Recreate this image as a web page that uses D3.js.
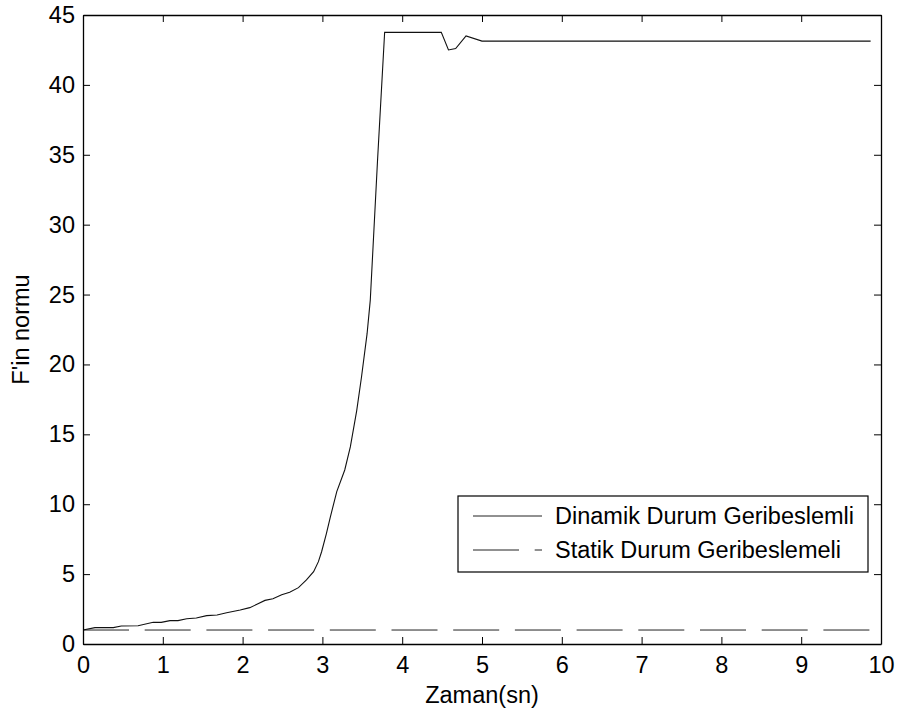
<!DOCTYPE html>
<html>
<head>
<meta charset="utf-8">
<script src="https://cdn.jsdelivr.net/npm/d3@7"></script>
<style>
  html, body { margin: 0; padding: 0; background: #fff; }
  text { font-family: "Liberation Sans", Arial, Helvetica, sans-serif; }
</style>
</head>
<body>
<svg id="chart" width="897" height="713"></svg>
<script>
// ---- data ----
const timeDynamic = [0, 0.15, 0.38, 0.48, 0.69, 0.88, 0.98, 1.09, 1.19, 1.30, 1.42, 1.55, 1.68, 1.80, 1.97, 2.09, 2.18, 2.28, 2.38, 2.49, 2.59, 2.70, 2.80, 2.89, 2.95, 2.99, 3.05, 3.10, 3.18, 3.28, 3.35, 3.43, 3.49, 3.56, 3.60, 3.69, 3.78, 4.49, 4.58, 4.67, 4.80, 5.00, 9.87];
const normDynamic = [1.0, 1.17, 1.17, 1.29, 1.31, 1.55, 1.55, 1.67, 1.67, 1.81, 1.86, 2.03, 2.07, 2.24, 2.43, 2.60, 2.84, 3.12, 3.24, 3.53, 3.70, 4.03, 4.58, 5.17, 5.89, 6.6, 7.9, 9.1, 10.9, 12.45, 14.1, 16.7, 19.1, 22.2, 24.6, 34.5, 43.76, 43.76, 42.5, 42.6, 43.5, 43.13, 43.13];
const timeStatic = [0, 9.87];
const normStatic = [1.0, 1.0];
const xTicks = [0, 1, 2, 3, 4, 5, 6, 7, 8, 9, 10];
const yTicks = [0, 5, 10, 15, 20, 25, 30, 35, 40, 45];
const seriesNames = ["Dinamik Durum Geribeslemli", "Statik Durum Geribeslemeli"];
const xLabel = "Zaman(sn)";
const yLabel = "F'in normu";

// ---- layout ----
const W = 897, H = 713;
const m = { left: 83, top: 15, right: 16, bottom: 69 };
const pw = W - m.left - m.right, ph = H - m.top - m.bottom;
const fs = 23.5;
const tickLen = 7;
const dash = "46,15.7";

const svg = d3.select("#chart");
const g = svg.append("g").attr("transform", `translate(${m.left},${m.top})`);

const x = d3.scaleLinear().domain([0, 10]).range([0, pw]);
const y = d3.scaleLinear().domain([0, 45]).range([ph, 0]);

g.append("rect").attr("width", pw).attr("height", ph).attr("fill", "#fff");

// lines
const dynData = timeDynamic.map((t, i) => [t, normDynamic[i]]);
const statData = timeStatic.map((t, i) => [t, normStatic[i]]);
const line = d3.line().x(d => x(d[0])).y(d => y(d[1]));

g.append("path").datum(statData).attr("d", line)
  .attr("fill", "none").attr("stroke", "#222").attr("stroke-width", 1)
  .attr("stroke-dasharray", dash);
g.append("path").datum(dynData).attr("d", line)
  .attr("fill", "none").attr("stroke", "#111").attr("stroke-width", 1.1);

// axes
function styleAxis(sel) {
  sel.selectAll("path").attr("stroke", "#000").attr("stroke-width", 1.3);
  sel.selectAll("line").attr("stroke", "#000").attr("stroke-width", 1);
  sel.selectAll("text").attr("font-size", fs).attr("fill", "#000")
     .attr("font-family", '"Liberation Sans", Arial, Helvetica, sans-serif');
}
g.append("g").attr("transform", `translate(0,${ph})`)
  .call(d3.axisBottom(x).tickValues(xTicks).tickFormat(d3.format("d"))
        .tickSizeInner(-tickLen).tickSizeOuter(0).tickPadding(12))
  .call(styleAxis);
g.append("g")
  .call(d3.axisLeft(y).tickValues(yTicks).tickFormat(d3.format("d"))
        .tickSizeInner(-tickLen).tickSizeOuter(0).tickPadding(8))
  .call(styleAxis);
g.append("g")
  .call(d3.axisTop(x).tickValues(xTicks).tickFormat("")
        .tickSizeInner(-tickLen).tickSizeOuter(0))
  .call(styleAxis);
g.append("g").attr("transform", `translate(${pw},0)`)
  .call(d3.axisRight(y).tickValues(yTicks).tickFormat("")
        .tickSizeInner(-tickLen).tickSizeOuter(0))
  .call(styleAxis);

// axis labels
svg.append("text").attr("x", m.left + pw / 2).attr("y", 703)
  .attr("text-anchor", "middle").attr("font-size", fs).text(xLabel);
svg.append("text").attr("transform", `translate(29,${m.top + ph / 2}) rotate(-90)`)
  .attr("text-anchor", "middle").attr("font-size", fs).text(yLabel);

// legend
const lg = svg.append("g");
lg.append("rect").attr("x", 458).attr("y", 496).attr("width", 410).attr("height", 76)
  .attr("fill", "#fff").attr("stroke", "#000").attr("stroke-width", 1.2);
const styles = [null, dash];
seriesNames.forEach((name, i) => {
  const cy = 516 + i * 34;
  lg.append("line").attr("x1", 473).attr("x2", 542).attr("y1", cy).attr("y2", cy)
    .attr("stroke", "#222").attr("stroke-width", 1)
    .attr("stroke-dasharray", styles[i]);
  lg.append("text").attr("x", 555).attr("y", cy + 8).attr("font-size", fs).text(name);
});
</script>
</body>
</html>
